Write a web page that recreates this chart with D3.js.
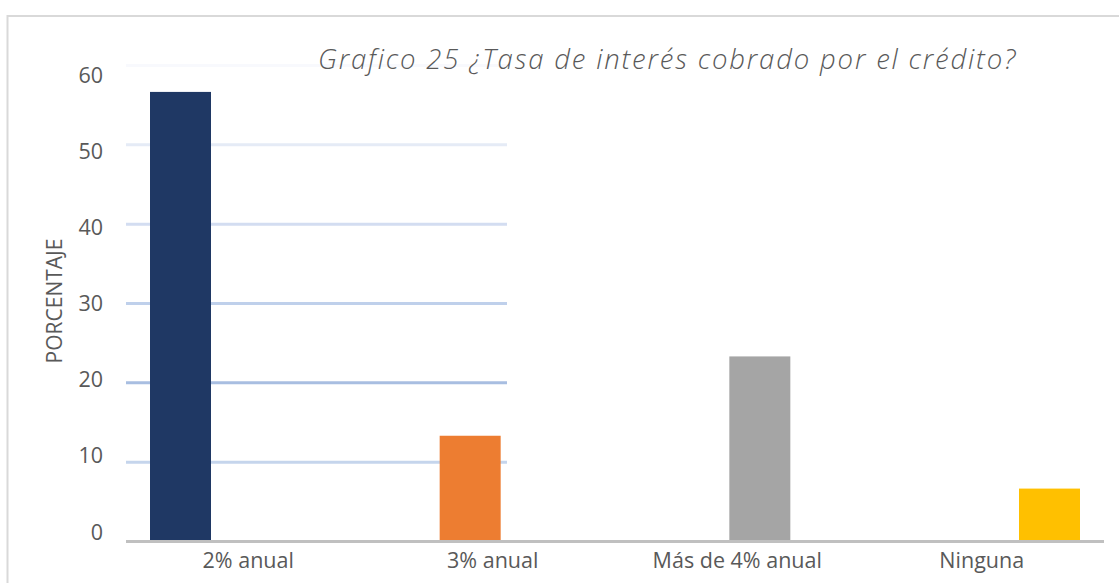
<!DOCTYPE html>
<html>
<head>
<meta charset="utf-8">
<script src="https://cdn.jsdelivr.net/npm/d3@7"></script>
<style>
  html, body { margin: 0; padding: 0; background: #fff; }
  svg { display: block; }
  text { font-family: "Open Sans", "Noto Sans", sans-serif; fill: #595959; }
</style>
</head>
<body>
<svg id="chart" width="1119" height="583"></svg>
<script>
// ---- data ----
const categories = ["2% anual", "3% anual", "Más de 4% anual", "Ninguna"];
const values = [56.67, 13.33, 23.33, 6.67];
const colors = ["#1f3864", "#ed7d31", "#a5a5a5", "#ffc000"];
const yTicks = [0, 10, 20, 30, 40, 50, 60];
const gridColors = ["#c0c0c0", "#c5d5ec", "#a8bee1", "#bfd0eb", "#d3ddf1", "#e5ebf6", "#f8f9fd"];
const title = "Grafico 25 ¿Tasa de interés cobrado por el crédito?";
const yTitle = "PORCENTAJE";

// ---- layout ----
const svg = d3.select("#chart");
const plot = { left: 126, right: 1104, top: 65.5, bottom: 541.5 };

// chart frame
svg.append("rect")
  .attr("x", 7.5).attr("y", 16).attr("width", 1300).attr("height", 700)
  .attr("fill", "none").attr("stroke", "#d9d9d9").attr("stroke-width", 2);

const x0 = d3.scaleBand().domain(categories).range([plot.left, plot.right]).paddingInner(0).paddingOuter(0);
// each category holds its own series slot (clustered chart with one value per series)
const x1 = d3.scalePoint().domain(d3.range(categories.length)).range([24, 159.5]);
const barW = 61;
const y = d3.scaleLinear().domain([0, 60]).range([plot.bottom, plot.top]);
const yLabel = d3.scaleLinear().domain([0, 60]).range([532, 75]);

// gridlines (partially visible as in reference)
svg.append("g").selectAll("line")
  .data(yTicks.filter(t => t > 0))
  .join("line")
  .attr("x1", plot.left).attr("x2", 507)
  .attr("y1", d => y(d)).attr("y2", d => y(d))
  .attr("stroke", d => gridColors[yTicks.indexOf(d)])
  .attr("stroke-width", 3);

// bars
svg.append("g").selectAll("rect")
  .data(categories.map((c, i) => ({ c, i, v: values[i] })))
  .join("rect")
  .attr("x", d => x0(d.c) + x1(d.i))
  .attr("width", barW)
  .attr("y", d => y(d.v))
  .attr("height", d => y(0) - y(d.v))
  .attr("fill", d => colors[d.i]);

// x axis line
svg.append("line")
  .attr("x1", plot.left).attr("x2", plot.right)
  .attr("y1", y(0)).attr("y2", y(0))
  .attr("stroke", gridColors[0]).attr("stroke-width", 3);

// y tick labels
svg.append("g").selectAll("text")
  .data(yTicks)
  .join("text")
  .attr("x", 103)
  .attr("y", d => yLabel(d))
  .attr("dy", "0.35em")
  .attr("text-anchor", "end")
  .attr("font-size", 21.5)
  .text(d => d);

// category labels
svg.append("g").selectAll("text")
  .data(categories)
  .join("text")
  .attr("x", d => x0(d) + x0.bandwidth() / 2)
  .attr("y", 568)
  .attr("text-anchor", "middle")
  .attr("font-size", 21.5)
  .text(d => d);

// y axis title
svg.append("text")
  .attr("transform", "translate(62,301) rotate(-90)")
  .attr("text-anchor", "middle")
  .attr("font-size", 21)
  .text(yTitle);

// chart title, fitted to the reference width
const t = svg.append("text")
  .attr("x", 318).attr("y", 69)
  .attr("font-size", 27.5)
  .attr("font-style", "italic")
  .attr("font-weight", 300)
  .text(title);
const natural = t.node().getComputedTextLength();
const target = 697;
t.attr("letter-spacing", ((target - natural) / (title.length - 1)).toFixed(2) + "px");
</script>
</body>
</html>
